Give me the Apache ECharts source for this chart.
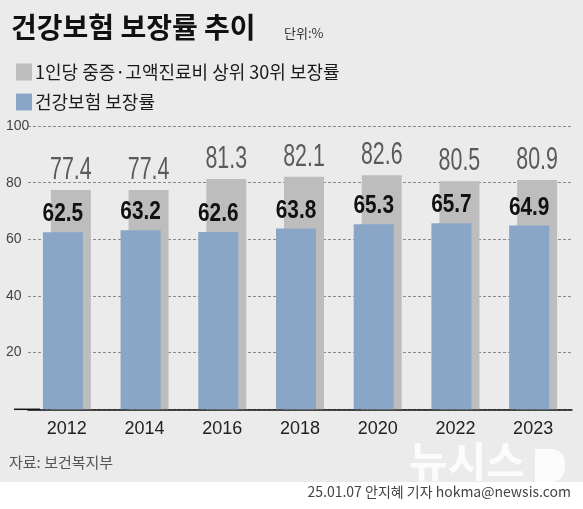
<!DOCTYPE html>
<html><head><meta charset="utf-8">
<script src="https://cdn.jsdelivr.net/npm/echarts@6/dist/echarts.min.js"></script>
<style>html,body{margin:0;padding:0;background:#ebebeb}#c{width:583px;height:509px}</style>
</head><body><div id="c"></div>
<script>
const years = ['2012','2014','2016','2018','2020','2022','2023'];
const topRate = [77.4, 77.4, 81.3, 82.1, 82.6, 80.5, 80.9];
const nhiRate = [62.5, 63.2, 62.6, 63.8, 65.3, 65.7, 64.9];
const yTicks = [0, 20, 40, 60, 80, 100];
const grayName = '1인당 중증·고액진료비 상위 30위 보장률';
const blueName = '건강보험 보장률';

const KR = "'Noto Sans CJK KR', 'Noto Sans', sans-serif";
const NUM = "'Liberation Sans', 'Arial', sans-serif";

function labelSeries(name, values, dx, font, color, gap, sx) {
  return {
    name: name + ' 값', type: 'custom', silent: true, z: 10,
    data: values.map((v, i) => [i, v]),
    renderItem: (params, api) => {
      const p = api.coord([api.value(0), api.value(1)]);
      return {
        type: 'text', x: p[0] + dx, y: p[1] - gap, scaleX: sx,
        style: {text: api.value(1).toFixed(1), font: font, fill: color,
                align: 'center', verticalAlign: 'bottom'}
      };
    }
  };
}

const chart = echarts.init(document.getElementById('c'), null, {renderer:'canvas'});
chart.setOption({
  backgroundColor: '#ebebeb',
  animation: false,
  title: [
    {text: '건강보험 보장률 추이', left: 6, top: 8,
     textStyle: {fontFamily: KR, fontSize: 28, fontWeight: 'bold', color: '#111'}},
    {text: '단위:%', left: 279, top: 22,
     textStyle: {fontFamily: KR, fontSize: 13, fontWeight: 'normal', color: '#333'}}
  ],
  legend: {
    orient: 'vertical', left: 11, top: 58, itemWidth: 16, itemHeight: 17, itemGap: 12,
    icon: 'rect', data: [grayName, blueName], selectedMode: false,
    textStyle: {fontFamily: KR, fontSize: 18, color: '#1a1a1a', padding: [0,0,0,-2]}
  },
  grid: {left: 28, right: 11, top: 126, bottom: 99.7},
  xAxis: {
    type: 'category', data: years,
    axisLine: {lineStyle: {color: '#111', width: 1.5}},
    axisTick: {show: false},
    axisLabel: {fontFamily: NUM, fontSize: 18, color: '#222', margin: 11}
  },
  yAxis: {
    type: 'value', min: yTicks[0], max: yTicks[yTicks.length-1], interval: 20,
    axisLine: {show: false}, axisTick: {show: false},
    axisLabel: {fontFamily: NUM, fontSize: 14, color: '#444', margin: 22, align: 'left',
      formatter: v => v === 0 ? '' : String(v)},
    splitLine: {lineStyle: {color: '#8a8a8a', type: [3, 2], width: 1}}
  },
  series: [
    {name: blueName, type: 'bar', data: nhiRate, barWidth: 40, barGap: '-80%', z: 3,
     itemStyle: {color: '#8aa6c7'}},
    {name: grayName, type: 'bar', data: topRate, barWidth: 40, z: 2,
     itemStyle: {color: '#bdbdbd'}},
    labelSeries(blueName, nhiRate, -4, "bold 26px 'Liberation Sans', Arial, sans-serif", '#111', 5, 0.8),
    labelSeries(grayName, topRate, 4, "31px 'Liberation Sans', Arial, sans-serif", '#5a5a5a', 4, 0.69)
  ]
});
const y0 = chart.convertToPixel({yAxisIndex: 0}, 0);
chart.setOption({
  graphic: [
    {type: 'line', shape: {x1: 14, y1: y0, x2: 40, y2: y0}, style: {stroke: '#111', lineWidth: 1.5}},
    {type: 'rect', shape: {x: 0, y: 482, width: 583, height: 27}, style: {fill: '#ffffff'}, z: 0},
    {type: 'text', left: 9, top: 455, style: {text: '자료: 보건복지부', font: "15px 'Noto Sans CJK KR'", fill: '#555'}},
    {type: 'text', left: 409, top: 440, style: {text: '뉴시스', font: "bold 42px 'Noto Sans CJK KR'", fill: 'rgba(255,255,255,0.85)'}},
    {type: 'rect', shape: {x: 535, y: 449, width: 30, height: 33, r: [0, 14, 14, 0]}, style: {fill: 'rgba(255,255,255,0.85)'}},
    {type: 'text', right: 12, top: 485, style: {text: '25.01.07 안지혜 기자 hokma@newsis.com', font: "14px 'Noto Sans CJK KR'", fill: '#444'}}
  ]
});
</script></body></html>
